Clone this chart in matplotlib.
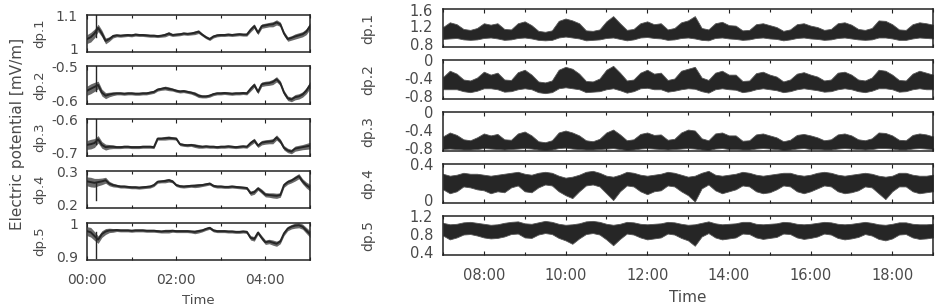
import numpy as np
import matplotlib
matplotlib.use('Agg')
import matplotlib.pyplot as plt
from matplotlib.ticker import MultipleLocator, FuncFormatter, NullFormatter
from matplotlib.transforms import offset_copy

plt.rcParams['font.family'] = ['DejaVu Sans']

TEXT_COLOR = '#4a4a4a'
LINE_COLOR = '#262626'

# ---------------- left column: 00:00 - 05:00, one sample every 5 min
left_minutes = list(range(0, 301, 5))
left_names = ['dp.1', 'dp.2', 'dp.3', 'dp.4', 'dp.5']
left_ylims = [(1.0, 1.1), (-0.6, -0.5), (-0.7, -0.6), (0.2, 0.3), (0.9, 1.0)]

left_dp1 = [1.035, 1.04, 1.05, 1.065, 1.05, 1.03, 1.035, 1.043, 1.045, 1.044, 1.045, 1.046,
            1.045, 1.047, 1.046, 1.046, 1.045, 1.044, 1.044, 1.043, 1.044, 1.046, 1.05, 1.046,
            1.047, 1.048, 1.05, 1.049, 1.05, 1.052, 1.055, 1.047, 1.04, 1.035, 1.042, 1.045,
            1.046, 1.046, 1.047, 1.046, 1.047, 1.048, 1.047, 1.047, 1.06, 1.07, 1.052, 1.07,
            1.072, 1.074, 1.075, 1.08, 1.075, 1.05, 1.035, 1.038, 1.042, 1.045, 1.048, 1.055,
            1.07]
left_dp2 = [-0.565, -0.56, -0.555, -0.55, -0.57, -0.578, -0.575, -0.573, -0.572, -0.572, -0.573, -0.572,
            -0.572, -0.573, -0.573, -0.572, -0.572, -0.57, -0.568, -0.562, -0.56, -0.558, -0.56, -0.562,
            -0.565, -0.567, -0.566, -0.568, -0.57, -0.573, -0.578, -0.58, -0.58, -0.578, -0.574, -0.572,
            -0.572, -0.571, -0.572, -0.573, -0.572, -0.572, -0.571, -0.572, -0.56, -0.55, -0.568, -0.548,
            -0.546, -0.545, -0.542, -0.535, -0.545, -0.57, -0.585, -0.588, -0.582, -0.58, -0.575, -0.565,
            -0.55]
left_dp3 = [-0.67, -0.668, -0.665, -0.655, -0.67, -0.676, -0.675, -0.675, -0.676, -0.676, -0.675, -0.675,
            -0.676, -0.676, -0.676, -0.675, -0.675, -0.675, -0.676, -0.653, -0.653, -0.652, -0.651, -0.652,
            -0.653, -0.668, -0.67, -0.671, -0.67, -0.672, -0.674, -0.675, -0.674, -0.675, -0.675, -0.676,
            -0.675, -0.675, -0.674, -0.675, -0.676, -0.675, -0.674, -0.675, -0.665, -0.658, -0.672, -0.664,
            -0.662, -0.661, -0.66, -0.65, -0.66, -0.678, -0.685, -0.688, -0.68, -0.678, -0.676, -0.674,
            -0.672]
left_dp4 = [0.272, 0.27, 0.268, 0.27, 0.272, 0.275, 0.266, 0.262, 0.26, 0.258, 0.258, 0.257,
            0.256, 0.256, 0.255, 0.256, 0.257, 0.258, 0.262, 0.271, 0.272, 0.273, 0.275, 0.272,
            0.262, 0.259, 0.258, 0.259, 0.26, 0.26, 0.261, 0.262, 0.264, 0.266, 0.26, 0.258,
            0.258, 0.257, 0.257, 0.258, 0.257, 0.256, 0.255, 0.254, 0.24, 0.243, 0.253, 0.245,
            0.236, 0.235, 0.234, 0.233, 0.235, 0.262, 0.27, 0.274, 0.28, 0.286, 0.272, 0.262,
            0.255]
left_dp5 = [0.978, 0.975, 0.965, 0.955, 0.97, 0.977, 0.98, 0.98, 0.981, 0.98, 0.98, 0.98,
            0.979, 0.98, 0.98, 0.98, 0.979, 0.979, 0.979, 0.978, 0.977, 0.978, 0.978, 0.979,
            0.978, 0.978, 0.978, 0.978, 0.977, 0.976, 0.978, 0.98, 0.984, 0.987, 0.98, 0.978,
            0.978, 0.978, 0.977, 0.977, 0.976, 0.976, 0.977, 0.976, 0.96, 0.957, 0.974, 0.96,
            0.948, 0.95, 0.947, 0.944, 0.95, 0.972, 0.985, 0.99, 0.993, 0.994, 0.99, 0.98,
            0.97]
# spread of the fast fluctuations around the slow curve (same for all channels)
left_noise = [0.012, 0.013, 0.012, 0.01, 0.009, 0.008, 0.006, 0.005, 0.004, 0.004, 0.004, 0.004,
              0.004, 0.004, 0.004, 0.004, 0.004, 0.004, 0.004, 0.004, 0.004, 0.005, 0.005, 0.004,
              0.004, 0.004, 0.004, 0.004, 0.004, 0.005, 0.005, 0.004, 0.004, 0.004, 0.004, 0.004,
              0.004, 0.004, 0.004, 0.004, 0.004, 0.004, 0.004, 0.004, 0.006, 0.006, 0.005, 0.006,
              0.006, 0.006, 0.007, 0.007, 0.006, 0.006, 0.006, 0.006, 0.007, 0.007, 0.007, 0.008,
              0.009]
# short glitch right after the start
left_spike_minute = 12.5
left_spike_from = [1.04, -0.565, -0.668, 0.268, 0.975]
left_spike_to = [1.1, -0.5, -0.6, 0.222, 0.905]

# ---------------- right column: 07:00 - 19:00, one sample every 10 min
right_start_hour = 7
right_minutes = list(range(0, 721, 10))
right_names = ['dp.1', 'dp.2', 'dp.3', 'dp.4', 'dp.5']
right_ylims = [(0.8, 1.6), (-0.8, 0.0), (-0.8, 0.0), (0.0, 0.4), (0.4, 1.2)]
right_yticks = [[0.8, 1.2, 1.6], [-0.8, -0.4, 0.0], [-0.8, -0.4, 0.0], [0.0, 0.4], [0.4, 0.8, 1.2]]

right_dp1_hi = [1.22, 1.32, 1.28, 1.18, 1.16, 1.2, 1.3, 1.27, 1.3, 1.18, 1.17, 1.3,
                1.34, 1.26, 1.14, 1.12, 1.15, 1.35, 1.4, 1.36, 1.3, 1.15, 1.14, 1.17,
                1.34, 1.45, 1.3, 1.16, 1.18, 1.3, 1.34, 1.28, 1.3, 1.17, 1.2, 1.32,
                1.36, 1.45, 1.2, 1.17, 1.3, 1.33, 1.26, 1.25, 1.15, 1.16, 1.28, 1.3,
                1.26, 1.22, 1.14, 1.17, 1.28, 1.3, 1.25, 1.22, 1.16, 1.18, 1.3, 1.32,
                1.27, 1.18, 1.16, 1.2, 1.36, 1.35, 1.28, 1.17, 1.16, 1.28, 1.32, 1.3,
                1.27]
right_dp1_lo = [0.97, 0.98, 0.99, 0.96, 0.95, 0.96, 0.99, 1.0, 0.98, 0.95, 0.96, 0.99,
                1.0, 0.98, 0.95, 0.94, 0.95, 1.0, 1.02, 1.0, 0.98, 0.94, 0.95, 0.96,
                0.99, 1.0, 0.97, 0.94, 0.96, 1.0, 1.01, 0.99, 0.98, 0.95, 0.96, 0.99,
                1.0, 0.98, 0.95, 0.94, 0.99, 1.0, 0.98, 0.97, 0.95, 0.96, 0.99, 1.0,
                0.98, 0.97, 0.94, 0.96, 0.99, 1.0, 0.98, 0.97, 0.95, 0.96, 0.99, 1.0,
                0.98, 0.96, 0.95, 0.96, 1.0, 1.0, 0.98, 0.95, 0.95, 0.98, 1.0, 0.99,
                0.98]
right_dp2_hi = [-0.35, -0.22, -0.28, -0.4, -0.42, -0.36, -0.24, -0.3, -0.26, -0.4, -0.41, -0.25,
                -0.2, -0.3, -0.44, -0.46, -0.42, -0.2, -0.14, -0.18, -0.28, -0.43, -0.44, -0.38,
                -0.2, -0.12, -0.26, -0.42, -0.4, -0.26, -0.2, -0.28, -0.26, -0.41, -0.38, -0.22,
                -0.18, -0.14, -0.36, -0.41, -0.26, -0.22, -0.3, -0.3, -0.43, -0.42, -0.27, -0.24,
                -0.3, -0.34, -0.44, -0.4, -0.28, -0.25, -0.3, -0.34, -0.42, -0.4, -0.26, -0.24,
                -0.3, -0.4, -0.42, -0.36, -0.2, -0.22, -0.3, -0.41, -0.42, -0.28, -0.22, -0.26,
                -0.3]
right_dp2_lo = [-0.6, -0.6, -0.6, -0.64, -0.66, -0.63, -0.58, -0.58, -0.6, -0.65, -0.64, -0.6,
                -0.58, -0.6, -0.66, -0.68, -0.66, -0.58, -0.56, -0.58, -0.6, -0.66, -0.65, -0.64,
                -0.6, -0.58, -0.62, -0.67, -0.64, -0.58, -0.57, -0.6, -0.6, -0.65, -0.63, -0.6,
                -0.58, -0.59, -0.64, -0.67, -0.6, -0.58, -0.6, -0.61, -0.66, -0.64, -0.6, -0.58,
                -0.6, -0.62, -0.66, -0.64, -0.6, -0.58, -0.6, -0.62, -0.65, -0.64, -0.6, -0.58,
                -0.6, -0.64, -0.66, -0.63, -0.58, -0.58, -0.6, -0.65, -0.64, -0.6, -0.58, -0.6,
                -0.6]
right_dp3_hi = [-0.5, -0.42, -0.47, -0.56, -0.58, -0.52, -0.44, -0.48, -0.45, -0.56, -0.57, -0.44,
                -0.4, -0.48, -0.6, -0.62, -0.58, -0.42, -0.38, -0.42, -0.48, -0.58, -0.6, -0.55,
                -0.42, -0.36, -0.46, -0.58, -0.56, -0.45, -0.42, -0.47, -0.46, -0.57, -0.55, -0.42,
                -0.36, -0.38, -0.54, -0.58, -0.44, -0.42, -0.48, -0.48, -0.59, -0.58, -0.46, -0.44,
                -0.48, -0.52, -0.6, -0.57, -0.47, -0.45, -0.48, -0.52, -0.58, -0.56, -0.46, -0.44,
                -0.48, -0.56, -0.58, -0.54, -0.42, -0.43, -0.48, -0.57, -0.58, -0.47, -0.44, -0.46,
                -0.5]
right_dp3_lo = [-0.76, -0.75, -0.76, -0.77, -0.77, -0.76, -0.74, -0.75, -0.76, -0.77, -0.76, -0.75,
                -0.74, -0.75, -0.77, -0.78, -0.77, -0.74, -0.73, -0.75, -0.76, -0.77, -0.77, -0.76,
                -0.75, -0.74, -0.76, -0.78, -0.77, -0.75, -0.74, -0.75, -0.76, -0.77, -0.76, -0.75,
                -0.74, -0.75, -0.77, -0.78, -0.75, -0.74, -0.76, -0.76, -0.77, -0.77, -0.75, -0.74,
                -0.75, -0.76, -0.78, -0.77, -0.75, -0.74, -0.76, -0.76, -0.77, -0.77, -0.75, -0.74,
                -0.75, -0.76, -0.77, -0.76, -0.74, -0.74, -0.75, -0.77, -0.77, -0.75, -0.74, -0.75,
                -0.76]
right_dp4_hi = [0.3, 0.28, 0.29, 0.31, 0.3, 0.3, 0.29, 0.28, 0.29, 0.3, 0.31, 0.32,
                0.3, 0.29, 0.31, 0.32, 0.31, 0.28, 0.26, 0.27, 0.29, 0.32, 0.33, 0.31,
                0.28, 0.27, 0.29, 0.32, 0.31, 0.29, 0.28, 0.29, 0.3, 0.32, 0.31, 0.29,
                0.27, 0.28, 0.31, 0.33, 0.29, 0.28, 0.29, 0.3, 0.32, 0.31, 0.29, 0.28,
                0.29, 0.3, 0.31, 0.31, 0.29, 0.28, 0.29, 0.31, 0.32, 0.31, 0.29, 0.28,
                0.29, 0.3, 0.31, 0.3, 0.28, 0.27, 0.28, 0.31, 0.31, 0.29, 0.28, 0.28,
                0.29]
right_dp4_lo = [0.14, 0.1, 0.12, 0.17, 0.16, 0.14, 0.13, 0.1, 0.12, 0.11, 0.16, 0.18,
                0.12, 0.11, 0.16, 0.19, 0.18, 0.12, 0.08, 0.05, 0.12, 0.18, 0.19, 0.17,
                0.1, 0.03, 0.12, 0.18, 0.17, 0.12, 0.09, 0.12, 0.13, 0.18, 0.17, 0.12,
                0.08, 0.015, 0.15, 0.19, 0.13, 0.1, 0.12, 0.14, 0.18, 0.17, 0.12, 0.1,
                0.11, 0.14, 0.18, 0.17, 0.12, 0.1, 0.12, 0.15, 0.18, 0.17, 0.12, 0.1,
                0.11, 0.13, 0.17, 0.16, 0.1, 0.04, 0.12, 0.17, 0.17, 0.12, 0.1, 0.11,
                0.12]
right_dp5_hi = [1.06, 1.03, 1.04, 1.07, 1.08, 1.06, 1.04, 1.02, 1.03, 1.06, 1.08, 1.09,
                1.05, 1.04, 1.07, 1.1, 1.08, 1.04, 1.02, 1.03, 1.05, 1.09, 1.1, 1.08,
                1.04, 1.02, 1.04, 1.08, 1.07, 1.04, 1.03, 1.04, 1.05, 1.08, 1.07, 1.04,
                1.02, 1.03, 1.06, 1.09, 1.05, 1.03, 1.04, 1.05, 1.08, 1.08, 1.04, 1.03,
                1.04, 1.05, 1.08, 1.07, 1.04, 1.03, 1.04, 1.06, 1.08, 1.07, 1.04, 1.03,
                1.04, 1.06, 1.08, 1.06, 1.03, 1.02, 1.04, 1.07, 1.07, 1.04, 1.03, 1.03,
                1.04]
right_dp5_lo = [0.8, 0.72, 0.76, 0.82, 0.83, 0.8, 0.76, 0.74, 0.75, 0.78, 0.83, 0.84,
                0.76, 0.75, 0.82, 0.85, 0.83, 0.75, 0.7, 0.63, 0.74, 0.83, 0.85, 0.82,
                0.72, 0.6, 0.73, 0.84, 0.82, 0.76, 0.72, 0.74, 0.76, 0.84, 0.82, 0.75,
                0.7, 0.59, 0.78, 0.85, 0.76, 0.72, 0.74, 0.76, 0.84, 0.83, 0.76, 0.73,
                0.75, 0.77, 0.84, 0.83, 0.76, 0.73, 0.75, 0.78, 0.84, 0.82, 0.75, 0.72,
                0.74, 0.77, 0.83, 0.8, 0.73, 0.7, 0.74, 0.82, 0.83, 0.76, 0.73, 0.74,
                0.76]

W, H = 944, 308


def px_axes(fig, x0, x1, y0, y1):
  ''' add an axes given its box in pixels (y measured from the top).'''
  return fig.add_axes([x0 / W, 1 - y1 / H, (x1 - x0) / W, (y1 - y0) / H])


def hour_fmt(h, pos):
  return '%02d:00' % int(round(h))


def num_fmt(v):
  return '%g' % (0.0 if abs(v) < 1e-9 else v)


def style_axes(ax, fontsize, xpad):
  for s in ax.spines.values():
    s.set_linewidth(1.1)
    s.set_color('#222222')
  ax.tick_params(axis='x', which='both', direction='in', top=True, bottom=True,
                 length=3, width=0.8, color='#222222', labelcolor=TEXT_COLOR,
                 labelsize=fontsize, pad=xpad)
  ax.tick_params(axis='x', which='minor', length=2)
  ax.tick_params(axis='y', length=0)
  ax.yaxis.set_major_formatter(NullFormatter())
  ax.xaxis.set_major_formatter(FuncFormatter(hour_fmt))
  ax.xaxis.set_major_locator(MultipleLocator(2))
  ax.xaxis.set_minor_locator(MultipleLocator(1))


def y_labels(fig, ax, ticks, fontsize, gap, nudge):
  ''' write the y tick labels by hand so the end labels can sit a bit inside.'''
  ax.set_yticks(ticks)
  for k, v in enumerate(ticks):
    dy = 0
    if k == 0:
      dy = nudge
    elif k == len(ticks) - 1:
      dy = -nudge
    tr = offset_copy(ax.get_yaxis_transform(), fig=fig, x=-gap, y=dy, units='dots')
    ax.text(0, v, num_fmt(v), transform=tr, ha='right', va='center',
            fontsize=fontsize, color=TEXT_COLOR)


fig = plt.figure(figsize=(W / 100, H / 100), dpi=100)

# ---- left column
left_series = [left_dp1, left_dp2, left_dp3, left_dp4, left_dp5]
left_rows = [(15, 52), (66, 104), (119, 156), (171, 208), (223, 260)]
t_left = np.array(left_minutes) / 60.0
noise = np.array(left_noise)
for i, (y0, y1) in enumerate(left_rows):
  ax = px_axes(fig, 87, 310, y0, y1)
  vals = np.array(left_series[i])
  ax.fill_between(t_left, vals - noise, vals + noise, color='#6a6a6a', lw=0)
  ax.plot(t_left, vals, color=LINE_COLOR, lw=1.4)
  ax.plot([left_spike_minute / 60.0] * 2, [left_spike_from[i], left_spike_to[i]],
          color=LINE_COLOR, lw=1.0)
  ax.set_xlim(0, 5)
  ax.set_ylim(*left_ylims[i])
  style_axes(ax, 10, 9)
  y_labels(fig, ax, list(left_ylims[i]), 10, 9, 2)
  if i < 4:
    ax.tick_params(axis='x', labelbottom=False)
  fig.text(40 / W, 1 - (y0 + y1) / 2 / H, left_names[i], rotation=90,
           ha='center', va='center', fontsize=9.5, color=TEXT_COLOR)

fig.text(18 / W, 1 - 134 / H, 'Electric potential [mV/m]', rotation=90,
         ha='center', va='center', fontsize=11, color=TEXT_COLOR)
fig.text(198 / W, 1 - 301 / H, 'Time', ha='center', va='center',
         fontsize=9.5, color=TEXT_COLOR)

# ---- right column
right_hi = [right_dp1_hi, right_dp2_hi, right_dp3_hi, right_dp4_hi, right_dp5_hi]
right_lo = [right_dp1_lo, right_dp2_lo, right_dp3_lo, right_dp4_lo, right_dp5_lo]
right_rows = [(9, 47), (60, 99), (112, 151), (164, 203), (216, 255)]
t_right = right_start_hour + np.array(right_minutes) / 60.0
for i, (y0, y1) in enumerate(right_rows):
  ax = px_axes(fig, 443, 933, y0, y1)
  ax.fill_between(t_right, right_lo[i], right_hi[i], color=LINE_COLOR,
                  edgecolor='#555555', lw=0.6)
  ax.set_xlim(7, 19)
  ax.set_ylim(*right_ylims[i])
  style_axes(ax, 10.5, 9)
  y_labels(fig, ax, right_yticks[i], 10.5, 10, 2)
  if i < 4:
    ax.tick_params(axis='x', labelbottom=False)
  fig.text(368 / W, 1 - (y0 + y1) / 2 / H, right_names[i], rotation=90,
           ha='center', va='center', fontsize=10, color=TEXT_COLOR)

fig.text(688 / W, 1 - 297 / H, 'Time', ha='center', va='center',
         fontsize=11, color=TEXT_COLOR)

fig.savefig('out.png', dpi=100)
